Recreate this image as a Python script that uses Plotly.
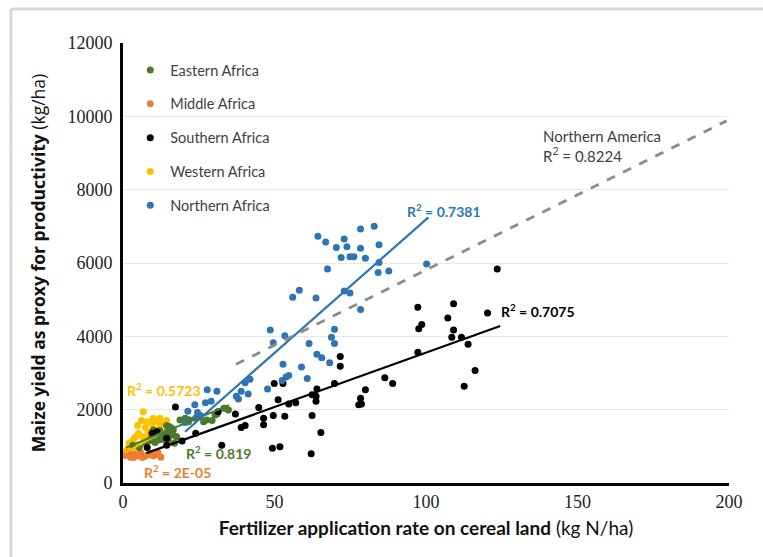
import plotly.graph_objects as go

# ---------------- data ----------------
east_x = [3.2, 5.4, 7.4, 8.6, 8.9, 9.6, 10, 10.6, 11.5, 11.7, 12.2, 12.8, 12.8, 14.1, 14.4, 14.4, 15, 15, 15.4,
          15.7, 16.1, 16.3, 16.6, 17, 17.6, 17.7, 18.8, 20.5, 21.6, 21.8, 24, 25.4, 26.6, 27.6, 29.4, 30.4, 31,
          33.3, 33.7, 34.8]
east_y = [1028, 970, 1086, 1145, 1173, 1261, 1445, 1106, 1358, 1173, 1435, 1183, 1309, 1280, 1400, 1571, 1377,
          1173, 1532, 1474, 1491, 1319, 1455, 1086, 1261, 1264, 1718, 1764, 1672, 1726, 1765, 1809, 1668, 1718,
          1707, 1855, 1882, 2037, 2036, 1991]

middle_x = [0.8, 1.5, 1.9, 2.5, 3.5, 4, 5, 5.8, 6.4, 7, 8, 9, 10, 11.2, 11.5, 12.5]
middle_y = [760, 820, 834, 700, 698, 780, 740, 834, 698, 720, 757, 800, 740, 776, 834, 700]

south_x = [123.5, 97.3, 109.1, 107.2, 120.3, 98.6, 97.6, 109.1, 108.5, 111.7, 113.9, 97.3, 116.2, 112.6, 71.7,
           71.7, 86.4, 89, 80, 78.4, 78.7, 77.8, 69.8, 64, 63.7, 63.7, 62.4, 62.4, 65.3, 62.1, 57, 54.7, 53.4,
           51.2, 52.8, 49.9, 49.6, 46.4, 46.4, 44.8, 40.3, 39, 51.8, 49.3, 37.1, 32.6, 31.4, 24, 19.5, 17.3, 14.4,
           11.2, 9.6, 8, 14.4]
south_y = [5839, 4791, 4888, 4500, 4636, 4326, 4209, 4170, 3977, 3977, 3783, 3569, 3065, 2638, 3453, 3181, 2871,
           2716, 2541, 2308, 2153, 2134, 2716, 2561, 2366, 2231, 2405, 1843, 1377, 795, 2192, 2153, 1823, 2270,
           2716, 2716, 1843, 1765, 1591, 2056, 1571, 1513, 989, 950, 1882, 1028, 1940, 1358, 1145, 2076, 1222,
           1397, 1358, 970, 1028]

west_x = [0.3, 0.6, 1, 1.2, 1.9, 2.5, 2.9, 3.5, 4.2, 4.8, 5.1, 5.5, 6.1, 6.4, 6.7, 7.4, 8, 8, 8.3, 9.6, 9.9,
          10.9, 11.2, 12.2, 12.2, 13.4, 14.4, 2, 3, 4]
west_y = [850, 757, 873, 780, 989, 900, 795, 1183, 970, 1571, 1358, 1050, 1707, 1261, 1940, 1513, 1668, 1222,
          1397, 1610, 1765, 1455, 1688, 1610, 1765, 1610, 1707, 1100, 1000, 1250]

north_x = [82.9, 78.4, 64.3, 66.9, 73, 70.4, 73.9, 78.4, 84.5, 72, 74.9, 76.2, 80, 84.5, 84.2, 87.7, 67.5, 100.2,
           73, 74.9, 58.2, 56, 63.7, 78.4, 48.6, 53.4, 49.6, 61.4, 69.8, 68.8, 69.8, 64, 65.6, 68.2, 52.8, 58.9,
           53.8, 54.7, 52.5, 60.8, 47.7, 41.9, 40.3, 41.3, 39, 37.4, 38.1, 27.8, 31, 27.2, 29.1, 23.7, 24.6, 21.4,
           25.6, 24, 20.5]
north_y = [7003, 6925, 6731, 6576, 6654, 6421, 6440, 6401, 6498, 6149, 6168, 6168, 6130, 6013, 5742, 5780, 5839,
           5975, 5238, 5179, 5257, 5063, 5044, 4733, 4171, 4015, 3822, 3802, 4190, 3977, 3802, 3511, 3414, 3278,
           3240, 3162, 2890, 2929, 2793, 2851, 2561, 2832, 2735, 2425, 2502, 2366, 2289, 2541, 2502, 2192, 2231,
           2134, 1920, 1959, 1843, 1765, 1649]

# trend lines: (x start, x end, slope, intercept)
trend_north_africa = [20.5, 100.8, 72.8, -95]
trend_south_africa = [7.7, 124.5, 29.7, 586]
trend_east_africa = [1.0, 35.0, 34.0, 930]
trend_west_africa = [0.5, 14.0, 45.0, 800]
trend_middle_africa = [0.5, 12.0, 0.0, 760]
trend_north_america = [37.3, 199.2, 41.0, 1709]

r2_labels = {
    "north_africa": ("R<sup>2</sup> = 0.7381", 106, 7420),
    "north_america": ("Northern America<br>R<sup>2</sup> = 0.8224", 137.9, 9200),
    "south_africa": ("R<sup>2</sup> = 0.7075", 137, 4714),
    "west_africa": ("R<sup>2</sup> = 0.5723", 13.6, 2541),
    "east_africa": ("R<sup>2</sup> = 0.819", 31.4, 824),
    "middle_africa": ("R<sup>2</sup> = 2E-05", 18, 310),
}

y_ticks = [0, 2000, 4000, 6000, 8000, 10000, 12000]
x_ticks = [0, 50, 100, 150, 200]

# ---------------- styles ----------------
C_EAST = "#4a7a2c"
C_MID = "#ed7d31"
C_SOUTH = "#000000"
C_WEST = "#ffc000"
C_NORTH = "#2e75b6"
C_NA = "#8c8c8c"
LAB_FONT = "Lato"
SERIF = "Liberation Serif, Times New Roman, serif"

fig = go.Figure()


def line_pts(t):
    x0, x1, m, b = t
    return [x0, x1], [m * x0 + b, m * x1 + b]


series = [
    ("Western Africa", west_x, west_y, C_WEST, 4),
    ("Middle Africa", middle_x, middle_y, C_MID, 2),
    ("Eastern Africa", east_x, east_y, C_EAST, 1),
    ("Southern Africa", south_x, south_y, C_SOUTH, 3),
    ("Northern Africa", north_x, north_y, C_NORTH, 5),
]
for name, xs, ys, col, rank in series:
    fig.add_trace(go.Scatter(
        x=xs, y=ys, mode="markers", name=name, legendrank=rank, legendgroup=name,
        marker=dict(color=col, size=7, line=dict(width=0)), cliponaxis=False,
    ))

for t, col, w, dash in [
    (trend_west_africa, C_WEST, 2, "solid"),
    (trend_middle_africa, C_MID, 2, "solid"),
    (trend_east_africa, C_EAST, 2, "solid"),
    (trend_south_africa, C_SOUTH, 2.2, "solid"),
    (trend_north_africa, C_NORTH, 2.2, "solid"),
    (trend_north_america, C_NA, 3, "dash"),
]:
    lx, ly = line_pts(t)
    fig.add_trace(go.Scatter(x=lx, y=ly, mode="lines", showlegend=False, hoverinfo="skip",
                             line=dict(color=col, width=w, dash=dash)))

ann_cols = {
    "north_africa": C_NORTH, "north_america": "#404040", "south_africa": "#000000",
    "west_africa": C_WEST, "east_africa": C_EAST, "middle_africa": C_MID,
}
for key, (txt, ax, ay) in r2_labels.items():
    if key == "north_america":
        fig.add_annotation(x=ax, y=ay, text=txt, showarrow=False, xanchor="left", align="left",
                           font=dict(family=LAB_FONT, size=15, color=ann_cols[key]))
    else:
        fig.add_annotation(x=ax, y=ay, text="<b>" + txt + "</b>", showarrow=False,
                           font=dict(family=LAB_FONT, size=14, color=ann_cols[key]))

# outer light frame (top and left)
fig.add_shape(type="line", xref="paper", yref="paper", x0=-0.185, x1=1.1, y0=1.0773, y1=1.0773,
              line=dict(color="#d9d9d9", width=3))
fig.add_shape(type="line", xref="paper", yref="paper", x0=-0.185, x1=-0.185, y0=1.0773, y1=-0.2,
              line=dict(color="#d9d9d9", width=3))

fig.update_layout(
    width=763, height=557,
    margin=dict(l=123, r=34, t=43, b=74),
    plot_bgcolor="white", paper_bgcolor="white",
    font=dict(family=SERIF, color="#222"),
    legend=dict(x=0.012, y=0.975, xanchor="left", yanchor="top", bgcolor="rgba(0,0,0,0)",
                font=dict(family=LAB_FONT, size=14.5, color="#404040"), tracegroupgap=12,
                itemwidth=30),
    xaxis=dict(range=[0, 200], tickvals=x_ticks, ticktext=[str(v) for v in x_ticks],
               showgrid=False, zeroline=False, showline=True, linecolor="black", linewidth=3,
               ticks="", tickfont=dict(family=SERIF, size=18, color="#222"),
               title=dict(text="<b>Fertilizer application rate on cereal land</b> (kg N/ha)",
                          font=dict(family=LAB_FONT, size=19, color="#111"), standoff=12)),
    yaxis=dict(range=[0, 12000], tickvals=y_ticks, ticktext=[str(v) for v in y_ticks],
               showgrid=True, gridcolor="#e8e8e8", gridwidth=1, zeroline=False,
               showline=True, linecolor="black", linewidth=3, ticks="",
               tickfont=dict(family=SERIF, size=18, color="#222"),
               ticklabelstandoff=4,
               title=dict(text="<b>Maize yield as proxy for productivity</b> (kg/ha)",
                          font=dict(family="Open Sans", size=17.5, color="#111"), standoff=18)),
)

fig.write_html("out.html")
